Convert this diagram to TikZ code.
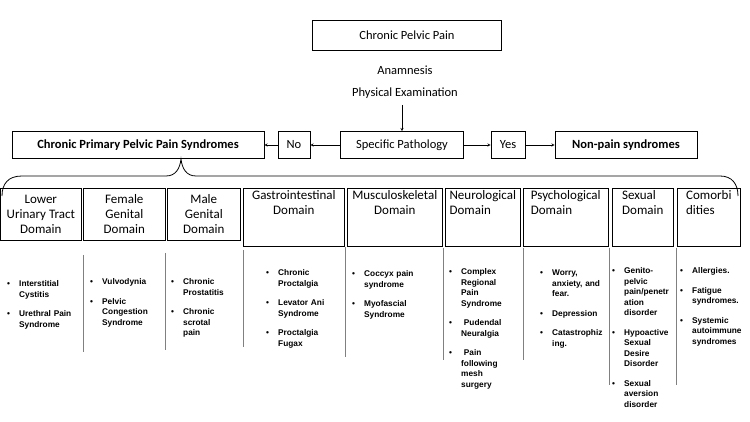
\documentclass[tikz,border=0pt]{standalone}
\usepackage{fontspec}
\setmainfont{Carlito}
\newfontfamily\listfont{Liberation Sans}
\usetikzlibrary{positioning}
\newcommand{\bl}[1]{\par\hangindent=12pt\hangafter=1\noindent\makebox[12pt][l]{\textbullet}#1\par\vspace{9pt}}
\tikzset{
  box/.style={draw, line width=0.6pt, inner sep=3pt, font=\fontsize{12.5}{14}\selectfont},
  dom/.style={draw, line width=0.6pt, anchor=north west, minimum height=52pt, inner sep=2pt,
    font=\fontsize{13}{15}\selectfont},
  lst/.style={anchor=north west, inner sep=0pt, font=\listfont\bfseries\fontsize{8.3}{10.5}\selectfont},
  sep/.style={draw, gray, line width=0.6pt},
  arr/.style={->, >=stealth, line width=0.5pt}
}
\begin{document}
\begin{tikzpicture}[x=1pt,y=-1pt]
  \useasboundingbox (0,0) rectangle (750,422);
  \node[box, minimum width=189pt, minimum height=30pt] (cpp) at (407,35) {Chronic Pelvic Pain};
  \node[font=\fontsize{12.5}{14}\selectfont] (anam) at (405,70) {Anamnesis};
  \node[font=\fontsize{12.5}{14}\selectfont] (phys) at (405,93) {Physical Examination};
  \node[box, minimum width=123pt, minimum height=27pt] (spec) at (402,145) {Specific Pathology};
  \node[box, minimum width=32pt, minimum height=27pt] (no) at (294,145) {No};
  \node[box, minimum width=252pt, minimum height=27pt, font=\bfseries\fontsize{12.5}{14}\selectfont] (cppps) at (138,145) {Chronic Primary Pelvic Pain Syndromes};
  \node[box, minimum width=34pt, minimum height=27pt] (yes) at (508,145) {Yes};
  \node[box, minimum width=142pt, minimum height=27pt, font=\bfseries\fontsize{12.5}{14}\selectfont] (nonpain) at (626,145) {Non-pain syndromes};

  \draw[arr] (phys.south -| spec.north) ++(0,3) -- (spec.north);
  \draw[arr] (spec) -- (no);
  \draw[arr] (no) -- (cppps);
  \draw[arr] (spec) -- (yes);
  \draw[arr] (yes) -- (nonpain);

  % brace
  \draw[line width=0.8pt] (2,196) .. controls (2,184) and (8,176) .. (22,176) -- (166,176)
    .. controls (176,176) and (180,168) .. (181,159)
    .. controls (182,168) and (186,176) .. (196,176) -- (720,176)
    .. controls (732,176) and (738,184) .. (738,196);

  % domains
  \node[dom, minimum width=81pt, align=center] (lut) at (0,188) {Lower\\Urinary Tract\\Domain};
  \node[dom, minimum width=82pt, align=center] (fem) at (83,188) {Female\\Genital\\Domain};
  \node[dom, minimum width=73pt, align=center] (male) at (167,188) {Male\\Genital\\Domain};
  \node[dom, minimum width=101pt, align=center, text depth=30pt] (gi) at (243,188) {Gastrointestinal\\Domain};
  \node[dom, minimum width=95pt, align=center, text depth=30pt] (musc) at (347,188) {Musculoskeletal\\Domain};
  \node[dom, minimum width=75pt, align=left, text depth=30pt] (neuro) at (445,188) {Neurological\\Domain};
  \node[dom, minimum width=85pt, align=left, text depth=30pt] (psy) at (523,188) {Psychological\\Domain};
  \node[dom, minimum width=61pt, align=left, text depth=30pt] (sex) at (612,188) {Sexual\\Domain};
  \node[dom, minimum width=63pt, align=left, text depth=30pt] (comor) at (677,188) {Comorbi\\dities};

  % separators
  \draw[sep] (83,255) -- (83,352);
  \draw[sep] (165,253) -- (165,350);
  \draw[sep] (243,250) -- (243,347);
  \draw[sep] (345,247) -- (345,357);
  \draw[sep] (443,248) -- (443,360);
  \draw[sep] (523,248) -- (523,360);
  \draw[sep] (609,248) -- (609,385);
  \draw[sep] (676,248) -- (676,385);

  % lists
  \node[lst, text width=74pt] (l1) at (7,276) {\bl{Interstitial\newline Cystitis}\bl{Urethral Pain\newline Syndrome}};
  \node[lst, text width=74pt] (l2) at (90,274) {\bl{Vulvodynia}\bl{Pelvic\newline Congestion\newline Syndrome}};
  \node[lst, text width=68pt] (l3) at (171,274) {\bl{Chronic\newline Prostatitis}\bl{Chronic\newline scrotal\newline pain}};
  \node[lst, text width=84pt] (l4) at (266,265) {\bl{Chronic\newline Proctalgia}\bl{Levator Ani\newline Syndrome}\bl{Proctalgia\newline Fugax}};
  \node[lst, text width=88pt] (l5) at (352,266) {\bl{Coccyx pain\newline syndrome}\bl{Myofascial\newline Syndrome}};
  \node[lst, text width=76pt] (l6) at (449,264) {\bl{Complex\newline Regional\newline Pain\newline Syndrome}\bl{~Pudendal\newline Neuralgia}\bl{~Pain\newline following\newline mesh\newline surgery}};
  \node[lst, text width=80pt] (l7) at (540,265) {\bl{Worry,\newline anxiety, and\newline fear.}\bl{Depression}\bl{Catastrophiz\newline ing.}};
  \node[lst, text width=66pt] (l8) at (612,263) {\bl{Genito-\newline pelvic\newline pain/penetr\newline ation\newline disorder}\bl{Hypoactive\newline Sexual\newline Desire\newline Disorder}\bl{Sexual\newline aversion\newline disorder}};
  \node[lst, text width=68pt] (l9) at (680,263) {\bl{Allergies.}\bl{Fatigue\newline syndromes.}\bl{Systemic\newline autoimmune\newline syndromes}};
\end{tikzpicture}
\end{document}
